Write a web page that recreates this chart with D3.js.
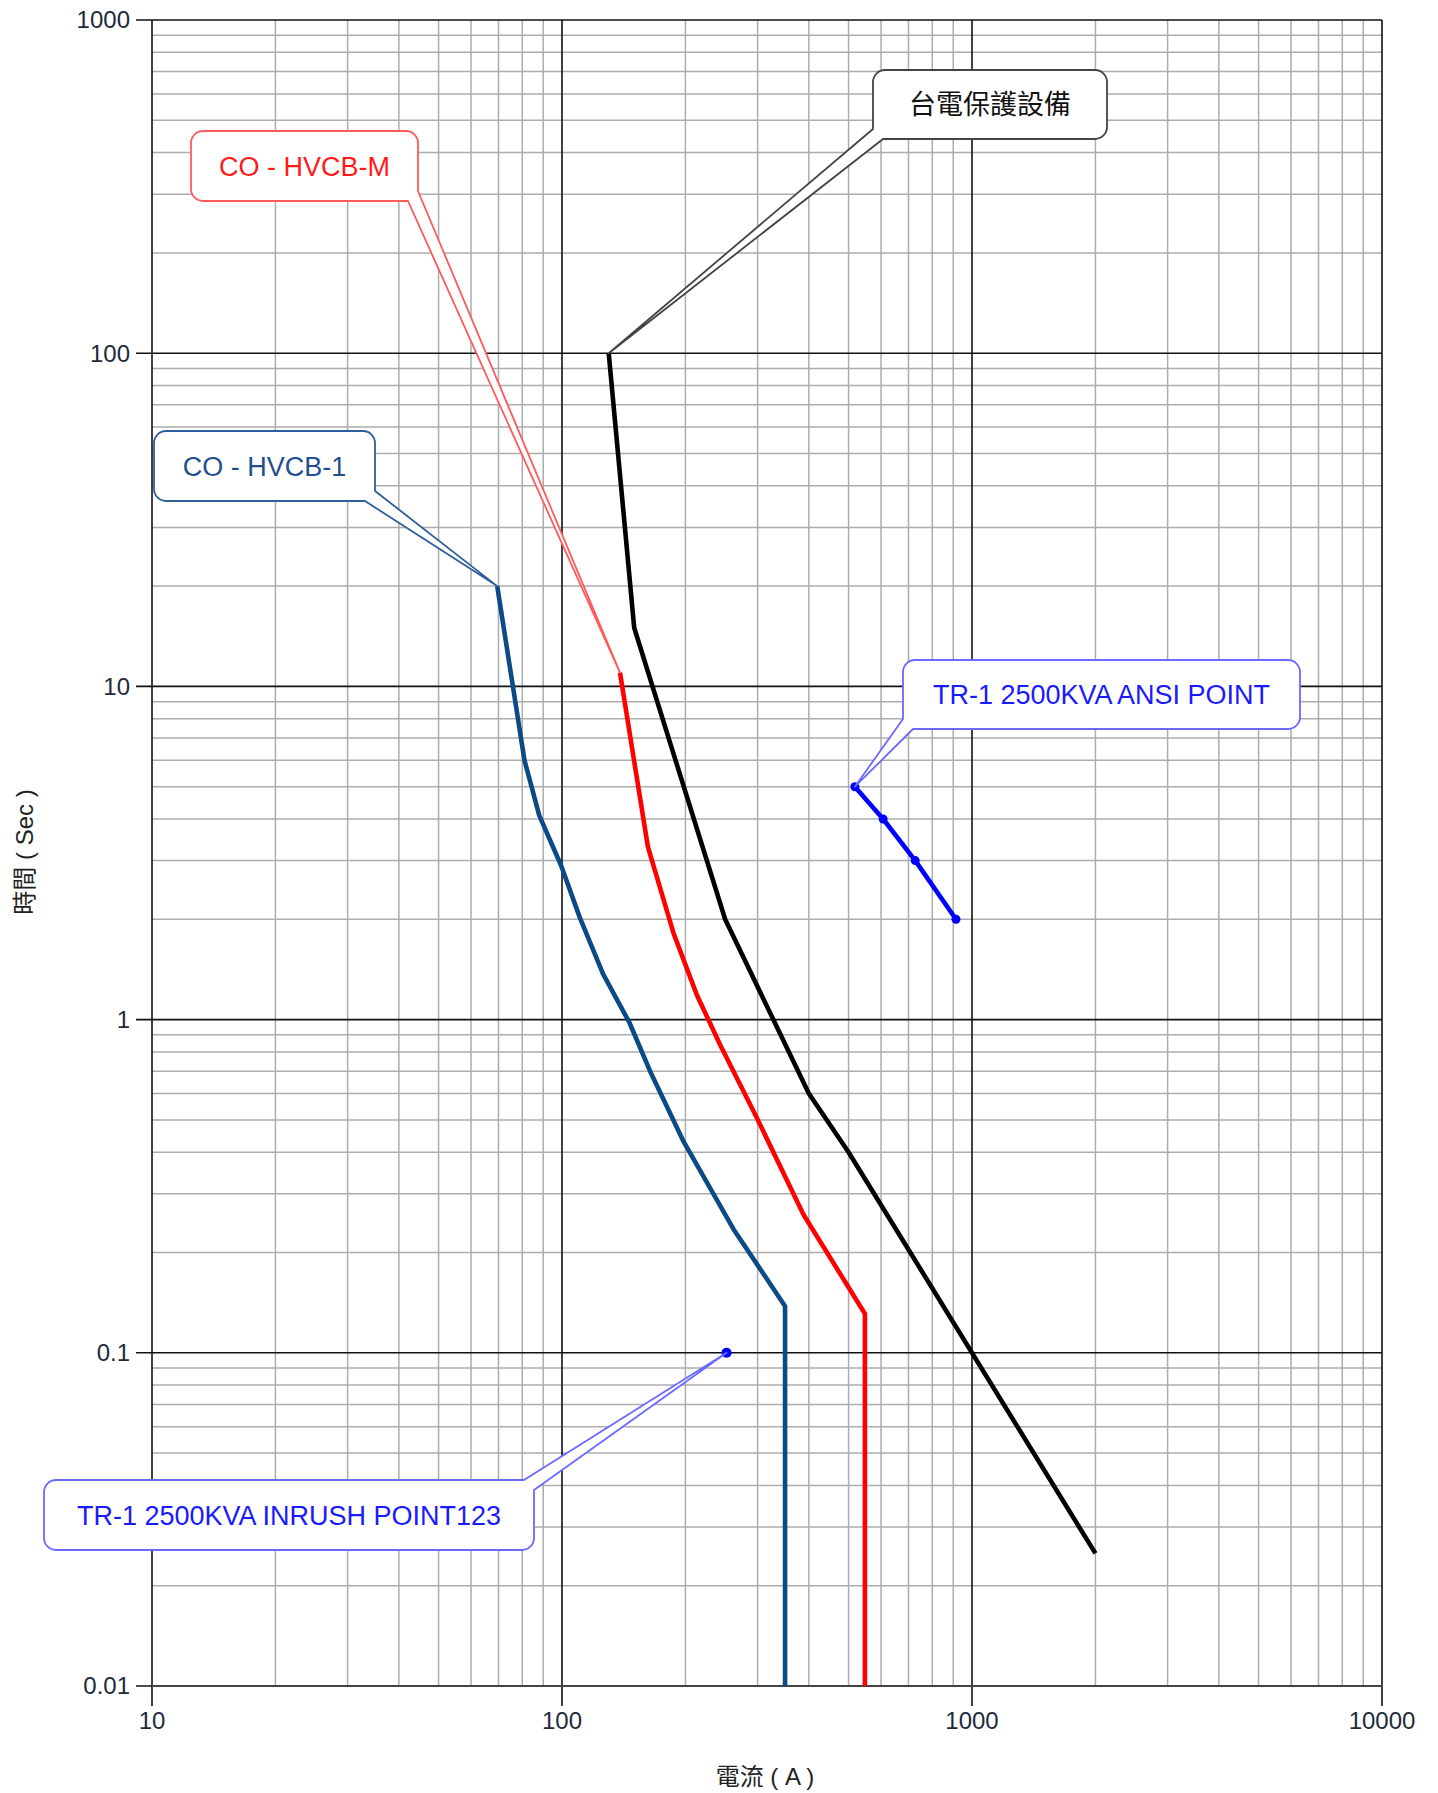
<!DOCTYPE html>
<html><head><meta charset="utf-8">
<script src="https://cdn.jsdelivr.net/npm/d3@7"></script>
<style>
html,body{margin:0;padding:0;background:#fff;}
svg{display:block;}
text{font-family:"Liberation Sans",Arial,"Noto Sans CJK TC",sans-serif;}
</style></head>
<body>
<svg id="chart" width="1438" height="1793"></svg>
<script>
// ---- data ----
const xTickValues = [10, 100, 1000, 10000];
const xTickLabels = ["10", "100", "1000", "10000"];
const yTickValues = [0.01, 0.1, 1, 10, 100, 1000];
const yTickLabels = ["0.01", "0.1", "1", "10", "100", "1000"];

const twpcName = "台電保護設備";
const twpcCurrent = [130, 150, 250, 400, 500, 2000];
const twpcTime    = [100, 15, 2, 0.6, 0.4, 0.025];

const hvcbMName = "CO - HVCB-M";
const hvcbMCurrent = [138.5, 162, 187, 213, 243, 298, 388, 548, 548];
const hvcbMTime    = [11, 3.3, 1.82, 1.19, 0.84, 0.51, 0.26, 0.131, 0.01];

const hvcb1Name = "CO - HVCB-1";
const hvcb1Current = [69.5, 81, 88, 99.5, 110.6, 126, 146, 164, 198, 262, 350, 350];
const hvcb1Time    = [20, 6, 4.1, 2.9, 2.02, 1.37, 0.98, 0.70, 0.43, 0.235, 0.138, 0.01];

const ansiName = "TR-1 2500KVA ANSI POINT";
const ansiCurrent = [518, 607, 727, 914];
const ansiTime    = [5, 4, 3, 2];

const inrushName = "TR-1 2500KVA INRUSH POINT123";
const inrushCurrent = [252];
const inrushTime    = [0.1];

const xTitle = "電流 ( A )";
const yTitle = "時間 ( Sec )";

// ---- layout ----
const L = 152, R = 1382, T = 20, B = 1686;
const svg = d3.select("#chart");
const x = d3.scaleLog().domain([10, 10000]).range([L, R]);
const y = d3.scaleLog().domain([0.01, 1000]).range([B, T]);

const zip = (a, b) => a.map((v, i) => [v, b[i]]);

// grid
const minorX = [], minorY = [];
for (let e = 1; e < 4; e++) for (let m = 2; m <= 9; m++) minorX.push(m * Math.pow(10, e));
for (let e = -2; e < 3; e++) for (let m = 2; m <= 9; m++) minorY.push(+(m * Math.pow(10, e)).toPrecision(3));

const g = svg.append("g");
g.selectAll(".mx").data(minorX).enter().append("line")
  .attr("x1", d => x(d)).attr("x2", d => x(d)).attr("y1", T).attr("y2", B)
  .attr("stroke", "#adadad").attr("stroke-width", 1.5);
g.selectAll(".my").data(minorY).enter().append("line")
  .attr("y1", d => y(d)).attr("y2", d => y(d)).attr("x1", L).attr("x2", R)
  .attr("stroke", "#adadad").attr("stroke-width", 1.5);
g.selectAll(".Mx").data(xTickValues).enter().append("line")
  .attr("x1", d => x(d)).attr("x2", d => x(d)).attr("y1", T).attr("y2", B + 20)
  .attr("stroke", "#111").attr("stroke-width", 1.6);
g.selectAll(".My").data(yTickValues).enter().append("line")
  .attr("y1", d => y(d)).attr("y2", d => y(d)).attr("x1", L - 16).attr("x2", R)
  .attr("stroke", "#111").attr("stroke-width", 1.6);
g.append("line").attr("x1", L).attr("x2", R).attr("y1", B).attr("y2", B).attr("stroke", "#444").attr("stroke-width", 2);

// tick labels
g.selectAll(".xl").data(xTickValues).enter().append("text")
  .attr("x", d => x(d)).attr("y", B + 43).attr("text-anchor", "middle")
  .attr("font-size", 24).attr("fill", "#1e2a3a").text((d, i) => xTickLabels[i]);
g.selectAll(".yl").data(yTickValues).enter().append("text")
  .attr("x", L - 22).attr("y", d => y(d)).attr("dy", "0.35em").attr("text-anchor", "end")
  .attr("font-size", 24).attr("fill", "#1e2a3a").text((d, i) => yTickLabels[i]);

// axis titles
svg.append("text").attr("x", 765).attr("y", 1785).attr("text-anchor", "middle")
  .attr("font-size", 24).attr("fill", "#222").text(xTitle);
svg.append("text").attr("transform", "translate(33,852) rotate(-90)").attr("text-anchor", "middle")
  .attr("font-size", 24).attr("fill", "#222").text(yTitle);

// curves
const line = d3.line().x(d => x(d[0])).y(d => y(d[1]));
const series = [
  {I: hvcb1Current, t: hvcb1Time, c: "#0a4a85"},
  {I: hvcbMCurrent, t: hvcbMTime, c: "#ff0000"},
  {I: twpcCurrent, t: twpcTime, c: "#000000"},
  {I: ansiCurrent, t: ansiTime, c: "#0000ff"}
];
series.forEach(s => {
  svg.append("path").datum(zip(s.I, s.t)).attr("d", line)
    .attr("fill", "none").attr("stroke", s.c).attr("stroke-width", 4.6)
    .attr("stroke-linejoin", "round");
});
svg.selectAll(".ad").data(zip(ansiCurrent, ansiTime)).enter().append("circle")
  .attr("cx", d => x(d[0])).attr("cy", d => y(d[1])).attr("r", 4.5).attr("fill", "#0000ff");
svg.selectAll(".id").data(zip(inrushCurrent, inrushTime)).enter().append("circle")
  .attr("cx", d => x(d[0])).attr("cy", d => y(d[1])).attr("r", 5).attr("fill", "#0000ff");

// callouts
function callout(box, corner, tip, text, stroke, fill) {
  const [x0, y0, x1, y1] = box, r = 12, a = 10;
  const [tx, ty] = tip;
  let p = "";
  const arc = (ex, ey) => `A${r},${r} 0 0 1 ${ex},${ey}`;
  p += `M${x0 + r},${y0}`;
  if (corner === "tr") { p += `H${x1 - a}L${tx},${ty}L${x1},${y0 + a}`; }
  else { p += `H${x1 - r}` + arc(x1, y0 + r); }
  if (corner === "br") { p += `V${y1 - a}L${tx},${ty}L${x1 - a},${y1}`; }
  else { p += `V${y1 - r}` + arc(x1 - r, y1); }
  if (corner === "bl") { p += `H${x0 + a}L${tx},${ty}L${x0},${y1 - a}`; }
  else { p += `H${x0 + r}` + arc(x0, y1 - r); }
  p += `V${y0 + r}` + arc(x0 + r, y0) + "Z";
  svg.append("path").attr("d", p).attr("fill", "#fff").attr("stroke", stroke)
    .attr("stroke-width", 1.8).attr("stroke-linejoin", "round");
  svg.append("text").attr("x", (x0 + x1) / 2).attr("y", (y0 + y1) / 2).attr("dy", "0.36em")
    .attr("text-anchor", "middle").attr("font-size", 27).attr("fill", fill).text(text);
}
callout([873, 70, 1107, 139], "bl", [x(twpcCurrent[0]), y(twpcTime[0])], twpcName, "#444", "#111");
callout([191, 131, 418, 201], "br", [x(hvcbMCurrent[0]), y(hvcbMTime[0])], hvcbMName, "#ff5a5a", "#ff1a1a");
callout([154, 431, 375, 501], "br", [x(hvcb1Current[0]), y(hvcb1Time[0])], hvcb1Name, "#2f5f9a", "#1f4f8f");
callout([903, 660, 1300, 729], "bl", [x(ansiCurrent[0]), y(ansiTime[0])], ansiName, "#6a6aff", "#1a1aff");
callout([44, 1480, 534, 1550], "tr", [x(inrushCurrent[0]), y(inrushTime[0])], inrushName, "#6a6aff", "#1a1aff");
</script>
</body></html>
